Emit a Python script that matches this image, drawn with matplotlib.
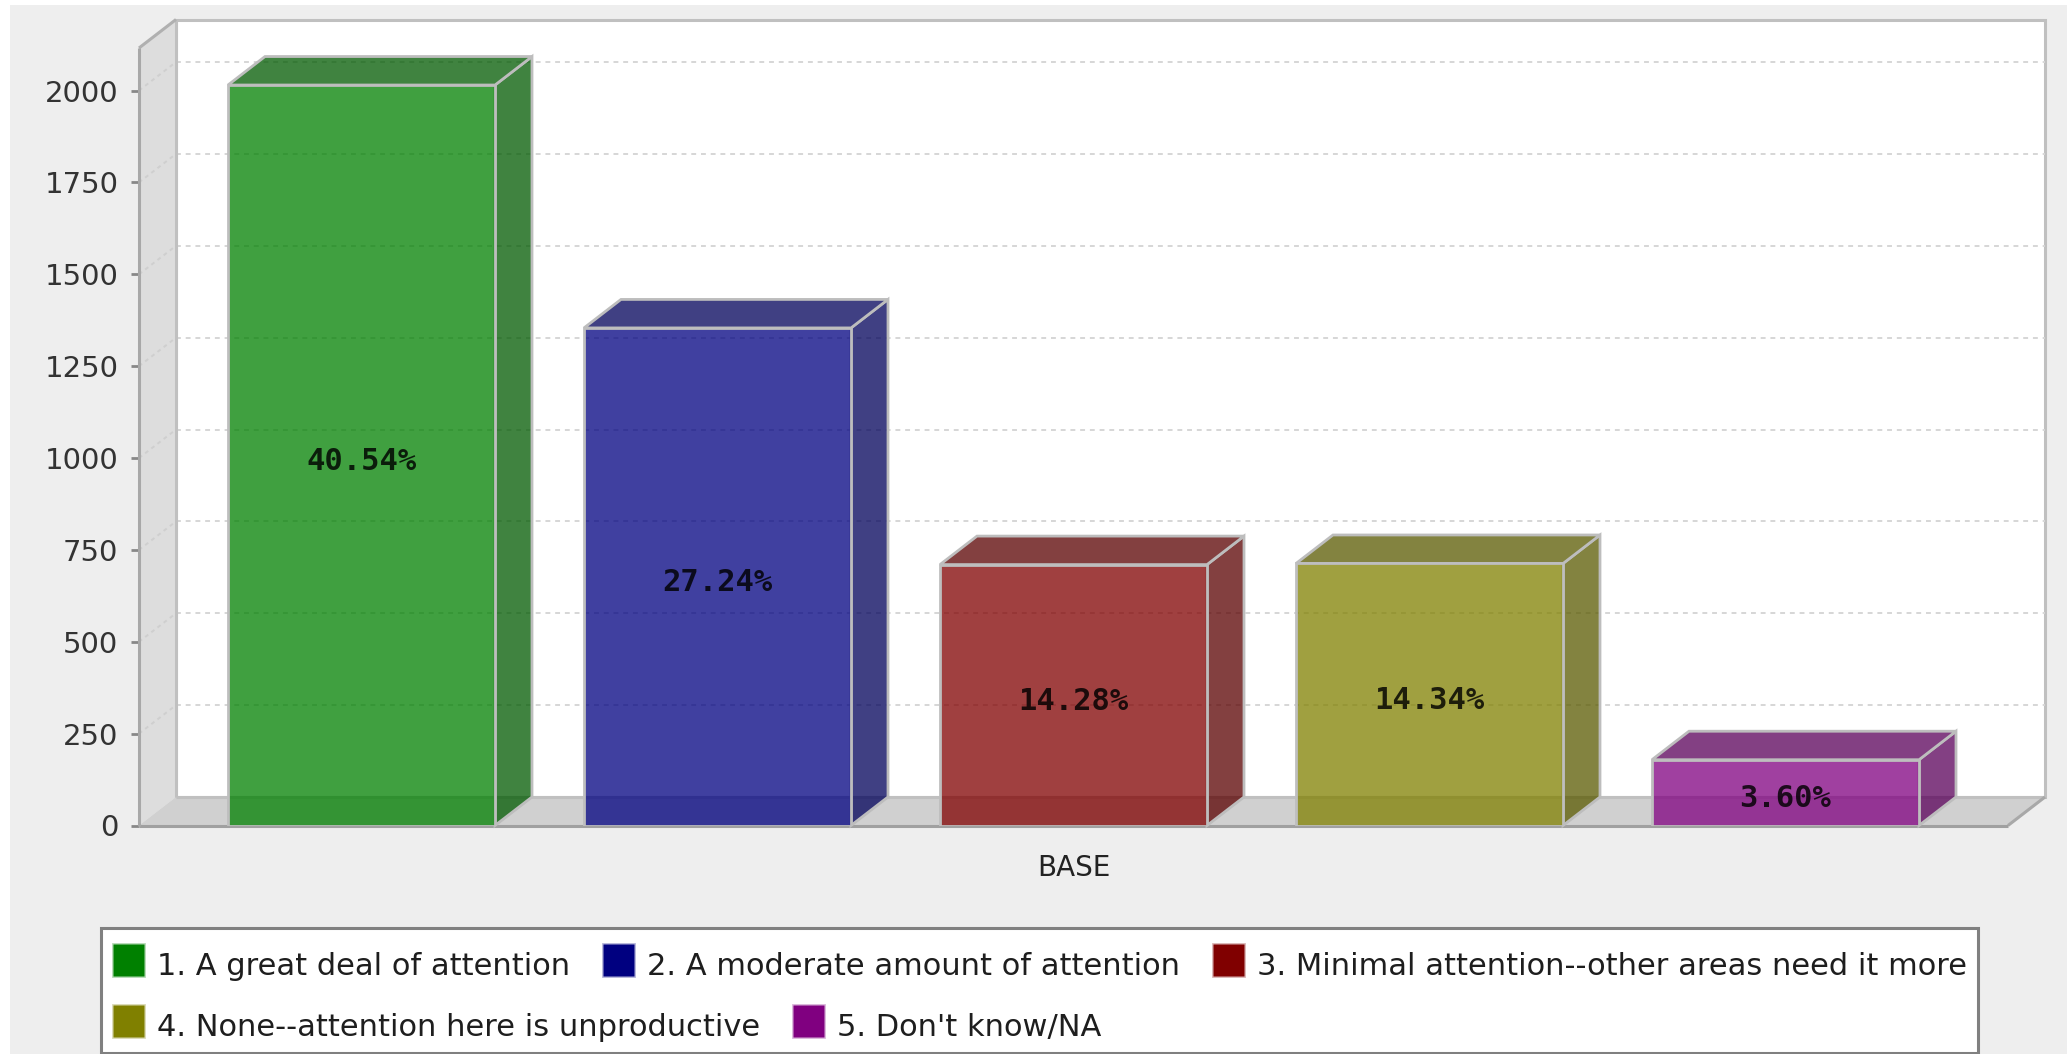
import matplotlib
matplotlib.use('Agg')
import numpy as np
import matplotlib.pyplot as plt
import matplotlib.colors as mcolors
import matplotlib.transforms as mtransforms
from matplotlib.patches import Polygon, Rectangle

categories = ['BASE']
series = ['1. A great deal of attention',
          '2. A moderate amount of attention',
          '3. Minimal attention--other areas need it more',
          '4. None--attention here is unproductive',
          "5. Don't know/NA"]
counts = [2015, 1354, 710, 713, 179]
colors = ['#008000', '#000080', '#800000', '#808000', '#800080']
yticks = [0, 250, 500, 750, 1000, 1250, 1500, 1750, 2000]

W, H = 2067, 1054
fig = plt.figure(figsize=(W / 100, H / 100), dpi=100, facecolor='#eeeeee')


def fx(px):
    return px / W


def fy(py):
    return 1 - py / H


# white page margin on the left and top
fig.add_artist(Rectangle((0, 0), 10 / W, 1, transform=fig.transFigure,
                         facecolor='white', lw=0, zorder=-1))
fig.add_artist(Rectangle((0, 1 - 5 / H), 1, 5 / H, transform=fig.transFigure,
                         facecolor='white', lw=0, zorder=-1))

# front face of the plot area, in pixels
plot_l, plot_r, plot_t, plot_b = 139, 2008, 48, 825.5
ax = fig.add_axes([fx(plot_l), fy(plot_b), (plot_r - plot_l) / W, (plot_b - plot_t) / H])
ax.set_facecolor('none')

x = np.arange(len(series))
w = 0.75
xmin, xmax = -w / 2 - 0.25, len(series) - 1 + w / 2 + 0.25
ymax = max(counts) * 1.05
ax.set_xlim(xmin, xmax)
ax.set_ylim(0, ymax)

# 3D depth: pixels -> data units
DX = 37 * (xmax - xmin) / (plot_r - plot_l)
DY = 28.5 * ymax / (plot_b - plot_t)

# back wall
ax.add_patch(Rectangle((xmin + DX, DY), xmax - xmin, ymax, facecolor='white',
                       edgecolor='#c0c0c0', lw=2.2, clip_on=False, zorder=0))
for t in yticks[1:]:
    ax.plot([xmin + DX, xmax + DX], [t + DY, t + DY], color='#d6d6d6', lw=1.4,
            dashes=(2.5, 2.5), clip_on=False, zorder=1)

# left wall and floor
ax.add_patch(Polygon([(xmin, 0), (xmin, ymax), (xmin + DX, ymax + DY), (xmin + DX, DY)],
                     closed=True, facecolor='#dddddd', lw=0, clip_on=False, zorder=2))
ax.add_patch(Polygon([(xmin, 0), (xmax, 0), (xmax + DX, DY), (xmin + DX, DY)],
                     closed=True, facecolor='#d0d0d0', lw=0, clip_on=False, zorder=2))
for t in yticks[1:]:
    ax.plot([xmin, xmin + DX], [t, t + DY], color='#cfcfcf', lw=1.4,
            dashes=(2, 2), clip_on=False, zorder=2.2)
edges = [
    ([xmin + DX, xmax + DX], [DY, DY], '#c0c0c0'),
    ([xmin + DX, xmin + DX], [DY, ymax + DY], '#c0c0c0'),
    ([xmin, xmin + DX], [ymax, ymax + DY], '#b0b0b0'),
    ([xmax, xmax + DX], [0, DY], '#a8a8a8'),
    ([xmin, xmax], [0, 0], '#a0a0a0'),
    ([xmin, xmin], [0, ymax], '#a8a8a8'),
]
for ex, ey, ec in edges:
    ax.plot(ex, ey, color=ec, lw=2.2, clip_on=False, zorder=2.5, solid_capstyle='butt')

# bars
total = sum(counts)
front_cols = []
for i, (v, c) in enumerate(zip(counts, colors)):
    rgb = mcolors.to_rgb(c)
    dark = tuple(k * 0.7 for k in rgb) + (0.75,)
    front_cols.append(rgb + (0.75,))
    l, r = x[i] - w / 2, x[i] + w / 2
    side = [(r, 0), (r + DX, DY), (r + DX, v + DY), (r, v)]
    top = [(l, v), (r, v), (r + DX, v + DY), (l + DX, v + DY)]
    for pts in (side, top):
        ax.add_patch(Polygon(pts, closed=True, facecolor=dark, edgecolor='#bdbdbd',
                             lw=2, clip_on=False, zorder=3))
ax.bar(x, counts, width=w, color=front_cols, edgecolor='#bebebe', linewidth=2, zorder=4)

label_tr = mtransforms.offset_copy(ax.transData, fig=fig, x=0, y=-6, units='dots')
for i, v in enumerate(counts):
    ax.text(x[i], v / 2, f'{v / total * 100:.2f}%', ha='center', va='center',
            family='DejaVu Sans Mono', fontweight='bold', fontsize=22,
            color='black', alpha=0.82, zorder=5, transform=label_tr)

# axes
for s in ax.spines.values():
    s.set_visible(False)
ax.set_yticks(yticks)
ax.tick_params(axis='y', length=5.8, width=2, color='#888888', pad=9,
               labelsize=21, labelcolor='#333333')
ax.set_xticks([x.mean()])
ax.set_xticklabels(categories)
ax.tick_params(axis='x', length=0, pad=20.5, labelsize=20, labelcolor='#222222')

# legend box with flowing items
box_l, box_r, box_t, box_b = 101, 1978, 928, 1053
fig.add_artist(Rectangle((fx(box_l), fy(box_b)), (box_r - box_l) / W, (box_b - box_t) / H,
                         transform=fig.transFigure, facecolor='white',
                         edgecolor='#808080', lw=2.2))
renderer = fig.canvas.get_renderer()
baselines = [975, 1036]
centers = [960, 1021]
px, row = 113, 0
for name, c in zip(series, colors):
    t = fig.text(fx(px + 44), fy(baselines[row]), name, fontsize=22,
                 color='#1e1e1e', va='baseline')
    tw = t.get_window_extent(renderer).width
    if px + 44 + tw > box_r - 10:
        row += 1
        px = 113
        t.set_position((fx(px + 44), fy(baselines[row])))
    rgb = mcolors.to_rgb(c)
    fig.add_artist(Rectangle((fx(px), fy(centers[row] + 16)), 31 / W, 32 / H,
                             transform=fig.transFigure, facecolor=c,
                             edgecolor=rgb + (0.3,), lw=2))
    px = px + 44 + tw + 33

fig.savefig('out.png', dpi=100, facecolor=fig.get_facecolor())
